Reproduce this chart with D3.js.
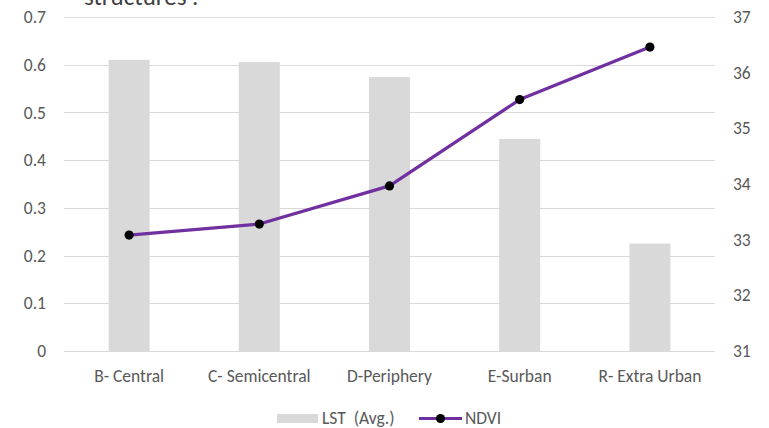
<!DOCTYPE html>
<html>
<head>
<meta charset="utf-8">
<script src="https://cdn.jsdelivr.net/npm/d3@7"></script>
<style>
  html, body { margin: 0; padding: 0; background: #fff; }
  svg { display: block; font-family: Carlito, Lato, sans-serif; }
</style>
</head>
<body>
<svg id="chart" width="769" height="428"></svg>
<script>
// Urban structure zones
const categories = ["B- Central", "C- Semicentral", "D-Periphery", "E-Surban", "R- Extra Urban"];
// Average land surface temperature (°C), right axis
const lstValues = [36.23, 36.19, 35.92, 34.81, 32.93];
// NDVI, left axis
const ndviValues = [0.243, 0.266, 0.346, 0.527, 0.637];
const leftTicks = [0, 0.1, 0.2, 0.3, 0.4, 0.5, 0.6, 0.7];
const rightTicks = [31, 32, 33, 34, 35, 36, 37];

const svg = d3.select("#chart");
const plot = { left: 64, right: 715, top: 17, bottom: 351 };
const fontFamily = "Carlito, Lato, sans-serif";
const fontSize = 17.5;
const textColor = "#595959";
const gridColor = "#d9d9d9";
const barColor = "#d9d9d9";
const lineColor = "#7030a0";

const x = d3.scaleBand().domain(categories).range([plot.left, plot.right]).paddingInner(0.685).paddingOuter(0.3425);
const yLeft = d3.scaleLinear().domain([0, 0.7]).range([plot.bottom, plot.top]);
const yRight = d3.scaleLinear().domain([31, 37]).range([plot.bottom, plot.top]);

// Title line partly cropped at the top edge
svg.append("text").attr("x", 84).attr("y", 5).attr("font-size", 25).attr("fill", "#404040")
  .text("structures'.");

// Gridlines
svg.append("g").selectAll("line").data(leftTicks).join("line")
  .attr("x1", plot.left).attr("x2", plot.right)
  .attr("y1", d => Math.round(yLeft(d)) + 0.5).attr("y2", d => Math.round(yLeft(d)) + 0.5)
  .attr("stroke", gridColor).attr("stroke-width", 1.2);

function styleAxis(g) {
  g.select(".domain").remove();
  g.selectAll("text").attr("font-size", fontSize).attr("fill", textColor).attr("font-family", fontFamily);
}

// Left axis
svg.append("g").attr("transform", `translate(${plot.left},0)`)
  .call(d3.axisLeft(yLeft).tickValues(leftTicks).tickSize(0).tickPadding(18).tickFormat(d => String(+d.toFixed(1))))
  .call(styleAxis);

// Right axis
svg.append("g").attr("transform", `translate(${plot.right},0)`)
  .call(d3.axisRight(yRight).tickValues(rightTicks).tickSize(0).tickPadding(18).tickFormat(d3.format("d")))
  .call(styleAxis);

// Bars (LST)
svg.append("g").selectAll("rect").data(categories).join("rect")
  .attr("x", d => x(d)).attr("width", x.bandwidth())
  .attr("y", (d, i) => yRight(lstValues[i]))
  .attr("height", (d, i) => plot.bottom - yRight(lstValues[i]))
  .attr("fill", barColor);

// Bottom axis
svg.append("g").attr("transform", `translate(0,${plot.bottom})`)
  .call(d3.axisBottom(x).tickSize(0).tickPadding(19))
  .call(styleAxis);

// NDVI line
const cx = d => x(d) + x.bandwidth() / 2;
svg.append("path").datum(categories)
  .attr("fill", "none").attr("stroke", lineColor).attr("stroke-width", 3.2).attr("stroke-linejoin", "round")
  .attr("d", d3.line().x(d => cx(d)).y((d, i) => yLeft(ndviValues[i])));
svg.append("g").selectAll("circle").data(categories).join("circle")
  .attr("cx", d => cx(d)).attr("cy", (d, i) => yLeft(ndviValues[i])).attr("r", 4.6).attr("fill", "#000");

// Legend
const lg = svg.append("g").attr("font-size", fontSize).attr("fill", textColor);
lg.append("rect").attr("x", 277).attr("y", 414).attr("width", 41).attr("height", 9).attr("fill", barColor);
lg.append("text").attr("x", 322).attr("y", 424)
  .attr("xml:space", "preserve").style("white-space", "pre").text("LST  (Avg.)");
lg.append("line").attr("x1", 419).attr("x2", 462).attr("y1", 418.5).attr("y2", 418.5)
  .attr("stroke", lineColor).attr("stroke-width", 3.2);
lg.append("circle").attr("cx", 440.5).attr("cy", 418.5).attr("r", 4.6).attr("fill", "#000");
lg.append("text").attr("x", 465).attr("y", 424).text("NDVI");
</script>
</body>
</html>
